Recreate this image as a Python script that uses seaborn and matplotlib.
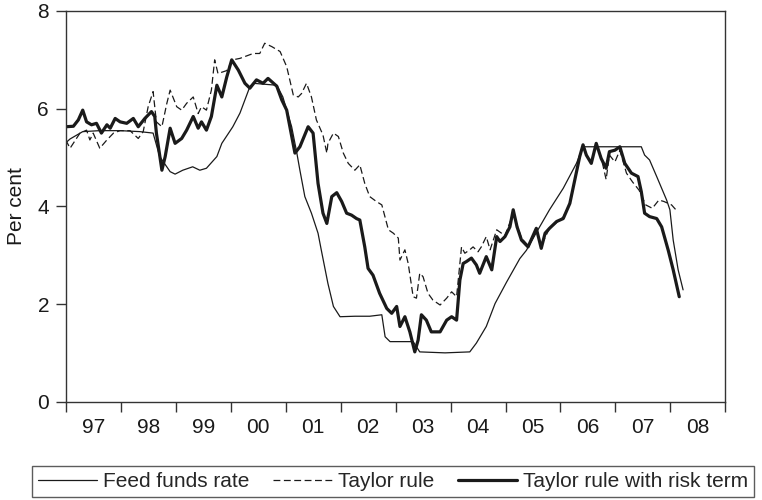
import matplotlib
matplotlib.use("Agg")
import matplotlib.pyplot as plt
import seaborn as sns
import numpy as np
import pandas as pd

# ---- data (decimal years, per cent) ----
ff_year = [1997.00, 1997.08, 1997.31, 1997.62, 1997.99, 1998.35, 1998.59, 1998.71, 1998.90, 1998.99,
           1999.13, 1999.31, 1999.44, 1999.56, 1999.75, 1999.84, 2000.04, 2000.17, 2000.35, 2000.41,
           2000.62, 2000.84, 2000.95, 2001.11, 2001.20, 2001.26, 2001.35, 2001.47, 2001.59, 2001.65,
           2001.77, 2001.87, 2001.99, 2002.26, 2002.53, 2002.75, 2002.81, 2002.90, 2003.32, 2003.44,
           2003.90, 2004.35, 2004.47, 2004.65, 2004.81, 2005.02, 2005.26, 2005.38, 2005.59, 2005.80,
           2006.05, 2006.29, 2006.41, 2006.90, 2007.47, 2007.53, 2007.62, 2007.75, 2007.93, 2007.99,
           2008.05, 2008.14, 2008.23]
ff_rate = [5.30, 5.38, 5.53, 5.55, 5.55, 5.53, 5.50, 5.02, 4.71, 4.66,
           4.74, 4.81, 4.74, 4.78, 5.02, 5.29, 5.63, 5.91, 6.45, 6.52,
           6.50, 6.48, 6.24, 5.63, 5.12, 4.74, 4.20, 3.86, 3.45, 3.10,
           2.42, 1.95, 1.74, 1.75, 1.75, 1.78, 1.33, 1.23, 1.23, 1.02,
           1.00, 1.02, 1.20, 1.54, 2.01, 2.45, 2.93, 3.10, 3.52, 3.93,
           4.37, 4.88, 5.22, 5.22, 5.22, 5.05, 4.95, 4.61, 4.13, 3.93,
           3.31, 2.70, 2.29]

tr_year = [1997.00, 1997.08, 1997.26, 1997.38, 1997.44, 1997.50, 1997.62, 1997.75, 1997.87, 1997.99,
           1998.17, 1998.32, 1998.41, 1998.50, 1998.59, 1998.65, 1998.75, 1998.84, 1998.90, 1999.02,
           1999.11, 1999.20, 1999.32, 1999.41, 1999.47, 1999.56, 1999.65, 1999.71, 1999.77, 1999.93,
           2000.04, 2000.17, 2000.29, 2000.41, 2000.53, 2000.62, 2000.75, 2000.90, 2001.02, 2001.14,
           2001.23, 2001.29, 2001.38, 2001.47, 2001.56, 2001.68, 2001.75, 2001.77, 2001.87, 2001.96,
           2002.05, 2002.14, 2002.26, 2002.35, 2002.44, 2002.53, 2002.65, 2002.75, 2002.87, 2002.96,
           2003.05, 2003.08, 2003.17, 2003.23, 2003.32, 2003.38, 2003.44, 2003.50, 2003.59, 2003.68,
           2003.81, 2003.93, 2004.02, 2004.11, 2004.20, 2004.26, 2004.35, 2004.41, 2004.50, 2004.56,
           2004.65, 2004.72, 2004.84, 2004.99, 2005.14, 2005.29, 2005.41, 2005.56, 2005.65, 2005.80,
           2006.05, 2006.17, 2006.26, 2006.35, 2006.41, 2006.47, 2006.56, 2006.65, 2006.74, 2006.83,
           2006.89, 2006.99, 2007.08, 2007.20, 2007.31, 2007.43, 2007.55, 2007.67, 2007.79, 2007.88,
           2008.02, 2008.13]
tr_rate = [5.36, 5.19, 5.50, 5.56, 5.36, 5.50, 5.19, 5.36, 5.50, 5.55,
           5.55, 5.39, 5.53, 6.04, 6.35, 5.73, 5.63, 6.11, 6.38, 6.04,
           5.97, 6.11, 6.24, 5.90, 6.04, 5.97, 6.38, 7.00, 6.72, 6.78,
           7.00, 7.03, 7.08, 7.13, 7.13, 7.34, 7.27, 7.17, 6.86, 6.28,
           6.24, 6.31, 6.52, 6.24, 5.77, 5.46, 5.09, 5.29, 5.50, 5.43,
           5.09, 4.88, 4.74, 4.85, 4.47, 4.20, 4.10, 4.03, 3.52, 3.45,
           3.35, 2.90, 3.11, 2.83, 2.15, 2.12, 2.63, 2.56, 2.22, 2.08,
           1.98, 2.12, 2.25, 2.15, 3.17, 3.04, 3.11, 3.17, 3.07, 3.17,
           3.38, 3.11, 3.52, 3.40, 3.85, 3.35, 3.20, 3.50, 3.20, 3.55,
           3.78, 4.06, 4.54, 5.00, 5.24, 5.05, 4.90, 5.27, 5.00, 4.55,
           5.05, 4.91, 5.15, 4.68, 4.50, 4.33, 4.03, 3.96, 4.13, 4.10,
           4.03, 3.89]

rt_year = [1997.00, 1997.14, 1997.23, 1997.31, 1997.38, 1997.47, 1997.56, 1997.65, 1997.75, 1997.81,
           1997.90, 1997.99, 1998.11, 1998.23, 1998.32, 1998.44, 1998.56, 1998.62, 1998.65, 1998.75,
           1998.81, 1998.90, 1998.99, 1999.11, 1999.20, 1999.32, 1999.41, 1999.47, 1999.56, 1999.65,
           1999.75, 1999.84, 1999.93, 2000.02, 2000.14, 2000.26, 2000.35, 2000.47, 2000.59, 2000.68,
           2000.84, 2000.93, 2001.02, 2001.17, 2001.26, 2001.41, 2001.50, 2001.59, 2001.68, 2001.75,
           2001.84, 2001.93, 2002.02, 2002.11, 2002.20, 2002.29, 2002.35, 2002.44, 2002.50, 2002.59,
           2002.71, 2002.84, 2002.93, 2003.02, 2003.08, 2003.17, 2003.26, 2003.35, 2003.41, 2003.47,
           2003.56, 2003.65, 2003.81, 2003.93, 2004.02, 2004.11, 2004.17, 2004.23, 2004.29, 2004.38,
           2004.47, 2004.53, 2004.65, 2004.75, 2004.84, 2004.90, 2004.99, 2005.08, 2005.14, 2005.21,
           2005.29, 2005.41, 2005.56, 2005.65, 2005.72, 2005.80, 2005.93, 2006.05, 2006.17, 2006.26,
           2006.35, 2006.41, 2006.47, 2006.56, 2006.65, 2006.74, 2006.83, 2006.89, 2006.99, 2007.08,
           2007.17, 2007.29, 2007.41, 2007.47, 2007.53, 2007.62, 2007.75, 2007.84, 2007.96, 2008.05,
           2008.16]
rt_rate = [5.63, 5.64, 5.77, 5.97, 5.73, 5.67, 5.70, 5.50, 5.67, 5.60,
           5.80, 5.73, 5.70, 5.80, 5.63, 5.80, 5.94, 5.84, 5.50, 4.74,
           5.02, 5.60, 5.29, 5.39, 5.56, 5.84, 5.60, 5.73, 5.56, 5.84,
           6.48, 6.24, 6.65, 7.00, 6.79, 6.52, 6.42, 6.59, 6.52, 6.62,
           6.46, 6.18, 5.97, 5.09, 5.22, 5.63, 5.50, 4.47, 3.86, 3.65,
           4.20, 4.28, 4.10, 3.86, 3.82, 3.75, 3.72, 3.17, 2.73, 2.59,
           2.22, 1.91, 1.81, 1.95, 1.54, 1.74, 1.43, 1.02, 1.26, 1.78,
           1.67, 1.43, 1.43, 1.67, 1.74, 1.67, 2.49, 2.83, 2.87, 2.94,
           2.80, 2.63, 2.97, 2.70, 3.38, 3.28, 3.38, 3.58, 3.93, 3.58,
           3.31, 3.17, 3.55, 3.14, 3.45, 3.55, 3.69, 3.75, 4.06, 4.54,
           5.02, 5.26, 5.05, 4.88, 5.29, 4.98, 4.78, 5.12, 5.15, 5.22,
           4.88, 4.68, 4.61, 4.30, 3.86, 3.79, 3.75, 3.58, 3.10, 2.70,
           2.15]

year_ticks = list(range(1997, 2010))
year_labels = ["97", "98", "99", "00", "01", "02", "03", "04", "05", "06", "07", "08"]
series_names = ["Feed funds rate", "Taylor rule", "Taylor rule with risk term"]

# ---- style ----
sns.set_style("white")
plt.rcParams["font.family"] = ["Liberation Sans", "DejaVu Sans"]
plt.rcParams["font.size"] = 15

fig = plt.figure(figsize=(7.62, 5.0), dpi=100)
ax = fig.add_axes([0.0862, 0.1966, 0.8658, 0.7814])

ink = "#1a1a1a"
ff_df = pd.DataFrame({"year": ff_year, "rate": ff_rate})
tr_df = pd.DataFrame({"year": tr_year, "rate": tr_rate})
rt_df = pd.DataFrame({"year": rt_year, "rate": rt_rate})

sns.lineplot(data=ff_df, x="year", y="rate", ax=ax, color=ink, linewidth=0.9,
             estimator=None, label=series_names[0])
sns.lineplot(data=tr_df, x="year", y="rate", ax=ax, color=ink, linewidth=0.9,
             linestyle=(0, (5.5, 2.8)), estimator=None, label=series_names[1])
sns.lineplot(data=rt_df, x="year", y="rate", ax=ax, color=ink, linewidth=2.3,
             estimator=None, label=series_names[2])

ax.set_xlim(year_ticks[0], year_ticks[-1])
ax.set_ylim(0, 8)
ax.set_yticks([0, 2, 4, 6, 8])
ax.set_xticks(year_ticks)
ax.set_xticklabels([])
ax.set_xticks([y + 0.5 for y in year_ticks[:-1]], minor=True)
ax.set_xticklabels(year_labels, minor=True)
ax.tick_params(axis="x", which="major", direction="out", length=7, width=1, color="#333333", bottom=True)
ax.tick_params(axis="x", which="minor", length=0, pad=12, labelsize=15, colors=ink, bottom=True)
ax.tick_params(axis="y", direction="out", length=7, width=1, color="#333333", left=True, pad=5,
               labelsize=15, labelcolor=ink)
for s in ax.spines.values():
    s.set_color("#333333")
    s.set_linewidth(1.0)
ax.set_xlabel("")
ax.set_ylabel("Per cent", fontsize=15, color=ink, labelpad=8)

ax.get_legend().remove()
handles, labels = ax.get_legend_handles_labels()
leg = fig.legend(handles, labels, loc="center", bbox_to_anchor=(0.516, 0.037), ncol=3,
                 frameon=True, fancybox=False, edgecolor="#333333", fontsize=15,
                 handlelength=2.8, handletextpad=0.3, columnspacing=1.15, borderpad=0.3,
                 borderaxespad=0)
leg.get_frame().set_linewidth(1.0)

fig.savefig("out.png", dpi=100)
